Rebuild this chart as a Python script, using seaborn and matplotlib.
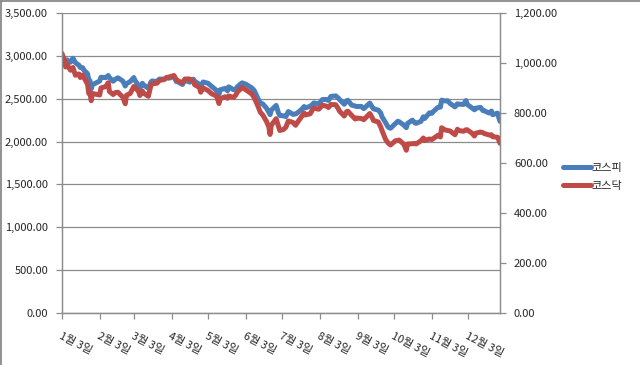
import matplotlib
matplotlib.use("Agg")
import matplotlib.pyplot as plt
from matplotlib.lines import Line2D
import pandas as pd
import seaborn as sns

dates = [
    "2022-01-03", "2022-01-05", "2022-01-06", "2022-01-07", "2022-01-10", "2022-01-12",
    "2022-01-14", "2022-01-17", "2022-01-18", "2022-01-20", "2022-01-21", "2022-01-24",
    "2022-01-25", "2022-01-26", "2022-01-27", "2022-01-28", "2022-02-03", "2022-02-04",
    "2022-02-08", "2022-02-10", "2022-02-11", "2022-02-14", "2022-02-16", "2022-02-18",
    "2022-02-22", "2022-02-24", "2022-02-25", "2022-02-28", "2022-03-03", "2022-03-04",
    "2022-03-07", "2022-03-08", "2022-03-10", "2022-03-11", "2022-03-15", "2022-03-17",
    "2022-03-18", "2022-03-22", "2022-03-24", "2022-03-28", "2022-03-30", "2022-04-01",
    "2022-04-05", "2022-04-07", "2022-04-08", "2022-04-12", "2022-04-14", "2022-04-18",
    "2022-04-21", "2022-04-22", "2022-04-26", "2022-04-27", "2022-04-29", "2022-05-03",
    "2022-05-06", "2022-05-10", "2022-05-12", "2022-05-13", "2022-05-17", "2022-05-19",
    "2022-05-20", "2022-05-24", "2022-05-26", "2022-05-27", "2022-05-31", "2022-06-03",
    "2022-06-08", "2022-06-10", "2022-06-13", "2022-06-15", "2022-06-17", "2022-06-20",
    "2022-06-22", "2022-06-23", "2022-06-24", "2022-06-28", "2022-06-30", "2022-07-01",
    "2022-07-04", "2022-07-06", "2022-07-08", "2022-07-12", "2022-07-14", "2022-07-15",
    "2022-07-19", "2022-07-21", "2022-07-22", "2022-07-26", "2022-07-28", "2022-07-29",
    "2022-08-02", "2022-08-05", "2022-08-08", "2022-08-10", "2022-08-12", "2022-08-16",
    "2022-08-18", "2022-08-19", "2022-08-23", "2022-08-25", "2022-08-26", "2022-08-29",
    "2022-09-01", "2022-09-02", "2022-09-06", "2022-09-08", "2022-09-13", "2022-09-15",
    "2022-09-16", "2022-09-20", "2022-09-22", "2022-09-23", "2022-09-26", "2022-09-28",
    "2022-09-30", "2022-10-04", "2022-10-06", "2022-10-07", "2022-10-11", "2022-10-13",
    "2022-10-14", "2022-10-18", "2022-10-20", "2022-10-21", "2022-10-25", "2022-10-27",
    "2022-10-28", "2022-11-01", "2022-11-03", "2022-11-04", "2022-11-08", "2022-11-10",
    "2022-11-11", "2022-11-14", "2022-11-16", "2022-11-18", "2022-11-22", "2022-11-24",
    "2022-11-25", "2022-11-29", "2022-12-01", "2022-12-02", "2022-12-06", "2022-12-08",
    "2022-12-09", "2022-12-13", "2022-12-15", "2022-12-16", "2022-12-20", "2022-12-22",
    "2022-12-23", "2022-12-27", "2022-12-28", "2022-12-29",
]
kospi = [
    2989, 2953, 2920, 2954, 2926, 2972,
    2921, 2890, 2864, 2862, 2834, 2792,
    2720, 2709, 2614, 2663, 2707, 2750,
    2746, 2771, 2747, 2704, 2729, 2744,
    2706, 2648, 2676, 2699, 2747, 2713,
    2651, 2622, 2680, 2661, 2621, 2694,
    2707, 2701, 2729, 2729, 2746, 2739,
    2759, 2700, 2700, 2666, 2716, 2693,
    2728, 2704, 2668, 2639, 2695, 2680,
    2644, 2596, 2550, 2604, 2620, 2592,
    2639, 2605, 2612, 2638, 2685, 2670,
    2626, 2595, 2504, 2447, 2440, 2391,
    2342, 2314, 2366, 2422, 2332, 2305,
    2300, 2292, 2350, 2317, 2322, 2330,
    2375, 2409, 2393, 2412, 2435, 2451,
    2439, 2490, 2491, 2480, 2527, 2533,
    2508, 2492, 2435, 2477, 2481, 2426,
    2415, 2409, 2410, 2384, 2449, 2401,
    2382, 2367, 2332, 2290, 2220, 2169,
    2155, 2209, 2237, 2232, 2192, 2162,
    2212, 2250, 2218, 2213, 2235, 2289,
    2268, 2335, 2329, 2348, 2399, 2402,
    2483, 2474, 2477, 2444, 2405, 2441,
    2437, 2433, 2479, 2434, 2393, 2371,
    2389, 2399, 2361, 2360, 2333, 2356,
    2313, 2332, 2280, 2236,
]
kosdaq = [
    1038, 1010, 984, 995, 971, 982,
    951, 956, 942, 952, 942, 915,
    878, 882, 849, 878, 872, 900,
    906, 921, 886, 874, 882, 883,
    863, 837, 871, 878, 906, 904,
    885, 870, 888, 880, 867, 909,
    917, 919, 930, 934, 942, 944,
    950, 933, 930, 920, 936, 936,
    926, 913, 902, 883, 900, 890,
    877, 868, 838, 857, 865, 859,
    868, 862, 873, 883, 902, 893,
    876, 861, 828, 803, 792, 767,
    744, 714, 751, 777, 745, 730,
    734, 743, 768, 762, 751, 759,
    786, 800, 792, 797, 814, 820,
    815, 831, 828, 822, 834, 833,
    818, 808, 788, 806, 807, 791,
    776, 780, 778, 773, 798, 781,
    770, 764, 744, 730, 694, 680,
    672, 689, 690, 692, 675, 651,
    676, 677, 678, 676, 689, 700,
    690, 696, 694, 697, 711, 704,
    741, 732, 730, 728, 713, 735,
    730, 727, 733, 733, 719, 708,
    719, 724, 721, 718, 712, 713,
    705, 703, 692, 679,
]
series_names = ["코스피", "코스닥"]
tick_dates = ["2022-01-03", "2022-02-03", "2022-03-03", "2022-04-03", "2022-05-03",
              "2022-06-03", "2022-07-03", "2022-08-03", "2022-09-03", "2022-10-03",
              "2022-11-03", "2022-12-03"]
tick_labels = ["1월 3일", "2월 3일", "3월 3일", "4월 3일", "5월 3일", "6월 3일",
               "7월 3일", "8월 3일", "9월 3일", "10월 3일", "11월 3일", "12월 3일"]
left_ticks = [0, 500, 1000, 1500, 2000, 2500, 3000, 3500]
right_ticks = [0, 200, 400, 600, 800, 1000, 1200]

# ---- style ----
sns.set_style("white")
plt.rcParams['font.family'] = ['Noto Sans CJK KR', 'DejaVu Sans']
BLUE = "#4A7EBB"
RED = "#BE4B48"
GRID = "#8C8C8C"
TXT = "#262626"
LW = 3.6

df = pd.DataFrame({"date": pd.to_datetime(dates), series_names[0]: kospi, series_names[1]: kosdaq})

fig = plt.figure(figsize=(6.4, 3.65), dpi=100)
ax = fig.add_axes([62/640, 52/365, 438/640, 300/365])
ax2 = ax.twinx()

sns.lineplot(data=df, x="date", y=series_names[0], ax=ax, color=BLUE, linewidth=LW, legend=False)
sns.lineplot(data=df, x="date", y=series_names[1], ax=ax2, color=RED, linewidth=LW, legend=False)

ax.set_xlim(pd.Timestamp("2022-01-03"), pd.Timestamp("2022-12-29"))
ax.set_ylim(0, 3500)
ax2.set_ylim(0, 1200)
ax.set_xlabel("")
ax.set_ylabel("")
ax2.set_ylabel("")

ax.set_yticks(left_ticks)
ax.set_yticklabels([f"{v:,.2f}" for v in left_ticks])
ax2.set_yticks(right_ticks)
ax2.set_yticklabels([f"{v:,.2f}" for v in right_ticks])
ax.set_xticks(pd.to_datetime(tick_dates))
ax.set_xticklabels(tick_labels, rotation=-27, ha="left", va="top", rotation_mode="anchor")

ax.yaxis.grid(True, color=GRID, linewidth=0.9)
ax.xaxis.grid(False)
ax2.grid(False)

for a in (ax, ax2):
    for s in a.spines.values():
        s.set_color(GRID)
        s.set_linewidth(0.9)
    a.spines["top"].set_visible(False)

ax.tick_params(axis="y", which="both", left=True, length=4, width=0.9, color=GRID,
               labelsize=8, labelcolor=TXT, pad=6)
ax.tick_params(axis="x", which="both", bottom=True, length=4, width=0.9, color=GRID,
               labelsize=8, labelcolor=TXT, pad=9)
ax2.tick_params(axis="y", which="both", right=True, length=4, width=0.9, color=GRID,
                labelsize=8, labelcolor=TXT, pad=6)

handles = [Line2D([0], [0], color=BLUE, lw=LW), Line2D([0], [0], color=RED, lw=LW)]
fig.legend(handles, series_names, loc="upper left", bbox_to_anchor=(563/640, 1 - 163/365),
           frameon=False, fontsize=8, handlelength=2.5, handletextpad=0.1,
           labelspacing=0.75, borderpad=0, borderaxespad=0)

# chart-area border (visible on top and left)
fig.add_artist(Line2D([0.5/640, 0.5/640], [0, 1 - 1/365], transform=fig.transFigure,
                      color="#7F7F7F", lw=1.2))
fig.add_artist(Line2D([0.5/640, 1], [1 - 1/365, 1 - 1/365], transform=fig.transFigure,
                      color="#7F7F7F", lw=1.2))

fig.savefig("out.png", dpi=100)
